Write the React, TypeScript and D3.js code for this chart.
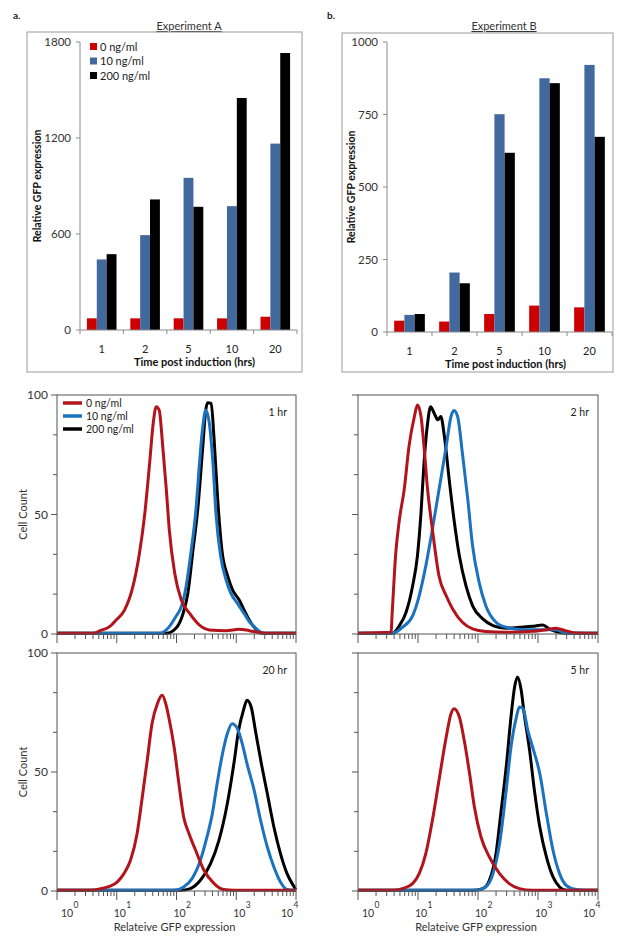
import React from "react";
import * as d3 from "d3";

const FONT = "Lato, 'Open Sans', sans-serif";

// bar charts (a, b)
const timePoints = ["1", "2", "5", "10", "20"];
const doseLabels = ["0 ng/ml", "10 ng/ml", "200 ng/ml"];
const barColors = ["#cc0000", "#41699e", "#000000"];

const expA_0 = [73, 73, 73, 73, 83];
const expA_10 = [441, 593, 951, 774, 1165];
const expA_200 = [474, 816, 770, 1450, 1731];
const expATicks = [0, 600, 1200, 1800];

const expB_0 = [39, 36, 62, 91, 85];
const expB_10 = [59, 205, 751, 875, 921];
const expB_200 = [62, 168, 618, 858, 673];
const expBTicks = [0, 250, 500, 750, 1000];

// flow histograms: [log10 GFP, cell count]
const lineColors = ["#b3141c", "#1b72c0", "#000000"];
const countTicks = [0, 50, 100];
const decadeTicks = [0, 1, 2, 3, 4];

const hr1_0 = [[0, 0.3], [0.61, 0.3], [0.72, 1.4], [0.88, 3.1], [0.99, 5.9], [1.13, 10], [1.27, 19.8], [1.38, 33.8], [1.47, 50.5], [1.55, 71.4], [1.61, 88.1], [1.66, 95.1], [1.71, 93.7], [1.77, 78.4], [1.83, 60.3], [1.88, 43.5], [1.97, 25.4], [2.08, 14.2], [2.22, 8.6], [2.38, 3.8], [2.55, 1.7], [2.83, 1.4], [3.05, 2.0], [3.22, 1.4], [3.49, 0.3], [4, 0.3]];
const hr1_10 = [[0, 0.3], [1.72, 0.3], [1.88, 3.1], [1.99, 7.3], [2.08, 11.4], [2.16, 19.8], [2.24, 33.8], [2.33, 53.3], [2.38, 70], [2.44, 86.8], [2.49, 93.7], [2.55, 88.1], [2.61, 71.4], [2.66, 50.5], [2.74, 32.4], [2.83, 22.6], [2.91, 17], [3.02, 12.8], [3.13, 8.6], [3.24, 4.5], [3.33, 2.4], [3.44, 0.3], [4, 0.3]];
const hr1_200 = [[0, 0.3], [1.83, 0.3], [1.99, 2.4], [2.11, 8.6], [2.19, 17], [2.27, 33.8], [2.36, 53.3], [2.44, 78.4], [2.49, 93.7], [2.52, 96.8], [2.58, 96.5], [2.63, 81.2], [2.69, 56.1], [2.76, 35.1], [2.86, 24], [2.94, 18.4], [3.05, 14.2], [3.16, 8.6], [3.27, 3.8], [3.38, 1.0], [3.49, 0.3], [4, 0.3]];

const hr2_0 = [[0, 0.3], [0.55, 0.7], [0.57, 9], [0.63, 34], [0.69, 47.9], [0.77, 60.4], [0.85, 78.5], [0.94, 91], [0.99, 95.8], [1.05, 91], [1.1, 78.5], [1.16, 60.4], [1.24, 43.8], [1.35, 24.3], [1.47, 16], [1.58, 10.4], [1.74, 4.9], [1.91, 2.1], [2.13, 1.0], [2.47, 0.7], [2.91, 1.1], [3.14, 1.8], [3.3, 2.4], [3.47, 1.3], [3.64, 0.4], [4, 0.3]];
const hr2_10 = [[0, 0.3], [0.57, 0.3], [0.74, 2.8], [0.91, 7.6], [1.02, 16], [1.13, 28.5], [1.24, 43.8], [1.35, 60.4], [1.47, 78.5], [1.55, 91], [1.6, 93.5], [1.66, 91], [1.74, 75.7], [1.83, 56.3], [1.91, 36.8], [2.02, 21.5], [2.13, 11.8], [2.3, 4.9], [2.47, 2.8], [2.8, 1.8], [3.14, 1.8], [3.3, 1.8], [3.47, 0.3], [4, 0.3]];
const hr2_200 = [[0, 0.3], [0.57, 0.3], [0.69, 3.5], [0.8, 9], [0.91, 20.1], [0.99, 32.6], [1.05, 50.7], [1.1, 71.5], [1.16, 88.2], [1.21, 95.1], [1.27, 92.4], [1.33, 89.6], [1.38, 91], [1.44, 82.6], [1.52, 64.6], [1.6, 47.9], [1.69, 32.6], [1.8, 20.1], [1.91, 11.8], [2.08, 6.3], [2.25, 3.5], [2.47, 2.4], [2.69, 2.8], [2.91, 3.2], [3.08, 3.8], [3.19, 2.1], [3.3, 1.0], [3.47, 0.3], [4, 0.3]];

const hr20_0 = [[0, 0.3], [0.56, 0.3], [0.73, 1.0], [0.89, 2.0], [1.01, 3.8], [1.12, 7.3], [1.23, 12.9], [1.34, 24.1], [1.42, 38.1], [1.51, 54.9], [1.59, 70.3], [1.68, 78.7], [1.76, 82.2], [1.82, 78.7], [1.87, 73.1], [1.96, 60.5], [2.04, 45.1], [2.12, 31.1], [2.21, 24.1], [2.32, 17.1], [2.46, 8.7], [2.63, 3.1], [2.79, 0.6], [2.96, 0.3], [4, 0.3]];
const hr20_10 = [[0, 0.3], [1.96, 0.3], [2.12, 1.7], [2.26, 5.2], [2.4, 12.9], [2.51, 22.7], [2.6, 32.5], [2.68, 45.1], [2.77, 57.7], [2.85, 66.1], [2.93, 70.3], [3.02, 68.2], [3.1, 61.9], [3.18, 53.5], [3.3, 42.3], [3.41, 29.4], [3.52, 18.5], [3.63, 10.1], [3.74, 3.8], [3.85, 0.6], [3.97, 0.3], [4, 0.3]];
const hr20_200 = [[0, 0.3], [2.07, 0.3], [2.23, 1.0], [2.4, 4.5], [2.57, 11.5], [2.71, 21.3], [2.85, 36.7], [2.96, 53.5], [3.04, 67.5], [3.12, 75.9], [3.18, 80.1], [3.25, 77.3], [3.32, 67.5], [3.41, 54.9], [3.52, 40.9], [3.63, 26.9], [3.74, 15.7], [3.85, 7.3], [3.97, 1.7], [4, 0.5]];

const hr5_0 = [[0, 0.3], [0.57, 0.3], [0.74, 1.0], [0.91, 3.1], [1.02, 7.3], [1.13, 15.7], [1.24, 29.7], [1.35, 46.5], [1.47, 64.7], [1.55, 74.5], [1.6, 76.6], [1.69, 73.1], [1.77, 63.3], [1.86, 49.3], [1.94, 35.3], [2.05, 22.7], [2.19, 14.3], [2.36, 7.3], [2.52, 3.1], [2.69, 1.0], [2.91, 0.3], [4, 0.3]];
const hr5_10 = [[0, 0.3], [1.97, 0.3], [2.13, 1.7], [2.25, 7.3], [2.36, 19.9], [2.47, 42.3], [2.55, 60.5], [2.64, 73.1], [2.69, 77.3], [2.75, 76.6], [2.83, 67.5], [2.91, 60.5], [3.03, 49.3], [3.14, 32.5], [3.25, 17.1], [3.36, 7.3], [3.47, 2.4], [3.64, 0.6], [3.81, 0.3], [4, 0.3]];
const hr5_200 = [[0, 0.3], [1.91, 0.3], [2.08, 1.0], [2.19, 4.5], [2.3, 15.7], [2.38, 32.5], [2.47, 52.1], [2.55, 73.1], [2.61, 85.7], [2.66, 89.9], [2.72, 84.3], [2.77, 74.5], [2.86, 59.1], [2.94, 42.3], [3.03, 26.9], [3.14, 14.3], [3.25, 5.9], [3.36, 1.7], [3.47, 0.3], [4, 0.3]];

type Box = { x: number; y: number; w: number; h: number };

function BarPanel(props: {
  letter: string; letterX: number; title: string; titleX: number; frame: Box;
  xRange: [number, number]; yRange: [number, number]; yMax: number; yTicks: number[];
  series: number[][]; legend: boolean; yLabelX: number;
}) {
  const { letter, letterX, title, titleX, frame, xRange, yRange, yMax, yTicks, series, legend, yLabelX } = props;
  const x = d3.scaleBand().domain(timePoints).range(xRange).padding(0);
  const inner = d3.scaleBand().domain(doseLabels).range([0, x.bandwidth()]).paddingOuter(0.7).paddingInner(0);
  const y = d3.scaleLinear().domain([0, yMax]).range(yRange);
  const axisColor = "#8a8a8a";
  const bounds = timePoints.map((t) => x(t) as number).concat([xRange[1]]);
  const yMid = (yRange[0] + yRange[1]) / 2;

  return (
    <g fontFamily={FONT}>
      <text x={letterX} y={19} fontSize={10} fontWeight="bold" fill="#222">{letter}</text>
      <text x={titleX} y={30} fontSize={11} textAnchor="middle" fill="#333" style={{ textDecoration: "underline" }}>{title}</text>
      <rect x={frame.x} y={frame.y} width={frame.w} height={frame.h} fill="none" stroke="#9a9a9a" strokeWidth={1} />
      {series.map((vals, si) =>
        timePoints.map((t, i) => (
          <rect key={`${si}-${i}`}
            x={(x(t) as number) + (inner(doseLabels[si]) as number)}
            y={y(vals[i])}
            width={inner.bandwidth()}
            height={y(0) - y(vals[i])}
            fill={barColors[si]} />
        ))
      )}
      <line x1={xRange[0]} x2={xRange[0]} y1={yRange[1]} y2={yRange[0]} stroke={axisColor} />
      <line x1={xRange[0]} x2={xRange[1]} y1={yRange[0]} y2={yRange[0]} stroke={axisColor} />
      {yTicks.map((t) => (
        <g key={t}>
          <line x1={xRange[0] - 4} x2={xRange[0]} y1={y(t)} y2={y(t)} stroke={axisColor} />
          <text x={xRange[0] - 9} y={y(t) + 4} fontSize={11.5} textAnchor="end" fill="#333">{t}</text>
        </g>
      ))}
      {bounds.map((b, i) => (
        <line key={i} x1={b} x2={b} y1={yRange[0]} y2={yRange[0] + 4} stroke={axisColor} />
      ))}
      {timePoints.map((t) => (
        <text key={t} x={(x(t) as number) + x.bandwidth() / 2} y={yRange[0] + 23} fontSize={11} textAnchor="middle" fill="#222">{t}</text>
      ))}
      <text x={(xRange[0] + xRange[1]) / 2 + 6} y={yRange[0] + 36} fontSize={11} fontWeight="bold" textAnchor="middle" fill="#111">Time post induction (hrs)</text>
      <text transform={`translate(${yLabelX},${yMid}) rotate(-90)`} fontSize={10.5} fontWeight="bold" textAnchor="middle" fill="#111">Relative GFP expression</text>
      {legend && doseLabels.map((d, i) => (
        <g key={d}>
          <rect x={xRange[0] + 10} y={yRange[1] + 1 + i * 14.5} width={7} height={7} fill={barColors[i]} />
          <text x={xRange[0] + 20} y={yRange[1] + 8.5 + i * 14.5} fontSize={11} fill="#222">{d}</text>
        </g>
      ))}
    </g>
  );
}

function HistPanel(props: {
  xRange: [number, number]; yRange: [number, number]; curves: number[][][];
  tag: string; yLabels: boolean; xLabels: boolean; legend: boolean;
}) {
  const { xRange, yRange, curves, tag, yLabels, xLabels, legend } = props;
  const x = d3.scaleLog().domain([1, 10000]).range(xRange);
  const y = d3.scaleLinear().domain([0, 100]).range(yRange);
  const line = d3.line<number[]>()
    .x((d) => x(Math.pow(10, d[0])))
    .y((d) => y(d[1]))
    .curve(d3.curveMonotoneX);
  const ticks = x.ticks();
  const minorY = d3.range(0, 101, 100 / 6);
  const order = [2, 1, 0];
  const frameColor = "#555";
  const cx = (xRange[0] + xRange[1]) / 2;

  return (
    <g fontFamily={FONT}>
      {order.map((i) => (
        <path key={i} d={line(curves[i]) || ""} fill="none" stroke={lineColors[i]} strokeWidth={3} strokeLinejoin="round" />
      ))}
      <rect x={xRange[0]} y={yRange[1]} width={xRange[1] - xRange[0]} height={yRange[0] - yRange[1]} fill="none" stroke={frameColor} strokeWidth={1} />
      {ticks.map((t, i) => {
        const major = Math.abs(Math.log10(t) - Math.round(Math.log10(t))) < 1e-6;
        return <line key={i} x1={x(t)} x2={x(t)} y1={yRange[0]} y2={yRange[0] + (major ? 9 : 5)} stroke={frameColor} />;
      })}
      {minorY.map((t, i) => (
        <line key={i} x1={xRange[0] - (countTicks.includes(Math.round(t)) ? 6 : 4)} x2={xRange[0]} y1={y(t)} y2={y(t)} stroke={frameColor} />
      ))}
      {yLabels && countTicks.map((t) => (
        <text key={t} x={xRange[0] - 9} y={y(t) + 4} fontSize={12} textAnchor="end" fill="#333">{t}</text>
      ))}
      {yLabels && (
        <text transform={`translate(${xRange[0] - 30},${(yRange[0] + yRange[1]) / 2}) rotate(-90)`} fontSize={11} textAnchor="middle" fill="#333">Cell Count</text>
      )}
      {xLabels && decadeTicks.map((d, i) => {
        const px = x(Math.pow(10, d));
        const shift = i === 0 ? 10 : i === decadeTicks.length - 1 ? -9 : 3;
        return (
          <g key={d}>
            <text x={px + shift} y={917} fontSize={10.5} textAnchor="middle" fill="#333">10</text>
            <text x={px + shift + 6.5} y={908} fontSize={8.5} fill="#333">{d}</text>
          </g>
        );
      })}
      {xLabels && (
        <text x={cx - 2} y={931} fontSize={11} textAnchor="middle" fill="#333">Relateive GFP expression</text>
      )}
      <text x={xRange[1] - 9} y={yRange[1] + 21} fontSize={10.5} textAnchor="end" fill="#222">{tag}</text>
      {legend && doseLabels.map((d, i) => (
        <g key={d}>
          <line x1={xRange[0] + 6} x2={xRange[0] + 25} y1={yRange[1] + 8 + i * 13} y2={yRange[1] + 8 + i * 13} stroke={lineColors[i]} strokeWidth={3.5} />
          <text x={xRange[0] + 29} y={yRange[1] + 12 + i * 13} fontSize={10.5} fill="#222">{d}</text>
        </g>
      ))}
    </g>
  );
}

export default function App() {
  const leftX: [number, number] = [57, 296];
  const rightX: [number, number] = [358, 598];
  const topY: [number, number] = [634, 395];
  const botY: [number, number] = [891, 653];
  return (
    <svg width={627} height={940} style={{ position: "absolute", left: 0, top: 0, background: "#fff" }}>
      <rect width={627} height={940} fill="#fff" />
      <BarPanel letter="a." letterX={13} title="Experiment A" titleX={189}
        frame={{ x: 27, y: 32, w: 275, h: 340 }}
        xRange={[80, 297]} yRange={[330, 42]} yMax={1800} yTicks={expATicks}
        series={[expA_0, expA_10, expA_200]} legend={true} yLabelX={41} />
      <BarPanel letter="b." letterX={327} title="Experiment B" titleX={504}
        frame={{ x: 342, y: 33, w: 271, h: 339 }}
        xRange={[387, 612]} yRange={[332, 42]} yMax={1000} yTicks={expBTicks}
        series={[expB_0, expB_10, expB_200]} legend={false} yLabelX={355} />
      <HistPanel xRange={leftX} yRange={topY} curves={[hr1_0, hr1_10, hr1_200]} tag="1 hr" yLabels={true} xLabels={false} legend={true} />
      <HistPanel xRange={rightX} yRange={topY} curves={[hr2_0, hr2_10, hr2_200]} tag="2 hr" yLabels={false} xLabels={false} legend={false} />
      <HistPanel xRange={leftX} yRange={botY} curves={[hr20_0, hr20_10, hr20_200]} tag="20 hr" yLabels={true} xLabels={true} legend={false} />
      <HistPanel xRange={rightX} yRange={botY} curves={[hr5_0, hr5_10, hr5_200]} tag="5 hr" yLabels={false} xLabels={true} legend={false} />
    </svg>
  );
}
